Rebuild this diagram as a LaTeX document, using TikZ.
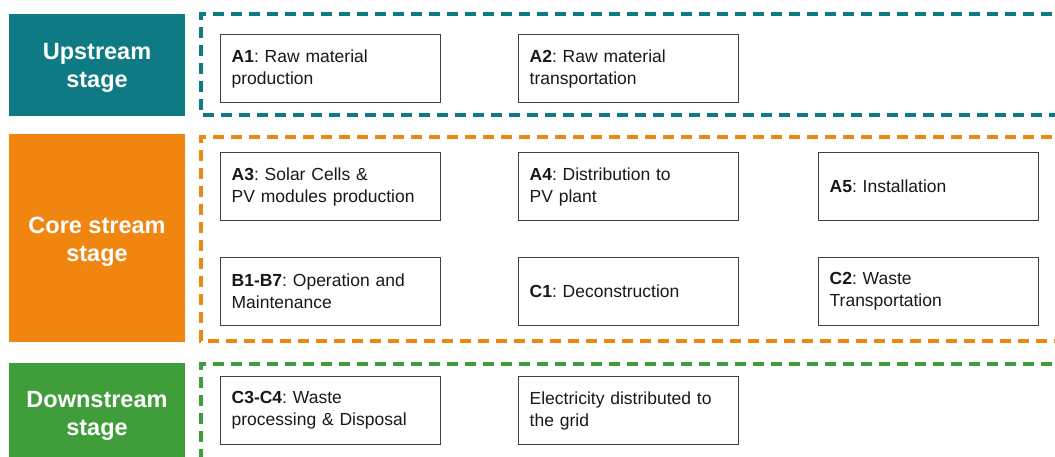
\documentclass[tikz,border=0pt]{standalone}
\usepackage{fontspec}
\setmainfont{Liberation Sans}
\frenchspacing
\definecolor{upteal}{RGB}{14,122,131}
\definecolor{coreorange}{RGB}{240,133,16}
\definecolor{downgreen}{RGB}{64,158,58}
\definecolor{boxline}{RGB}{64,64,64}
\tikzset{
  stage/.style={text=white, font=\fontsize{23.5}{28}\selectfont\bfseries, align=center},
  frame/.style={line width=3.5pt, dash pattern=on 11pt off 7pt},
  module/.style={draw=boxline, line width=1.3pt, fill=white, minimum width=220pt, minimum height=68pt,
    text width=198pt, inner xsep=11pt, inner ysep=0pt, align=left, anchor=north west,
    font=\fontsize{17.5}{22}\selectfont, text=black!90}
}
\begin{document}
\begin{tikzpicture}[x=1pt,y=-1pt]
			\useasboundingbox (0,0) rectangle (1055,457);
			\clip (0,0) rectangle (1055,457);
			
			% stage bars
			\fill[upteal] (9,14) rectangle (185,116);
			\fill[coreorange] (9,134) rectangle (185,342);
			\fill[downgreen] (9,363) rectangle (185,470);
			\node[stage] (up) at (97,68) {Upstream\\stage};
			\node[stage] (core) at (97,241.5) {Core stream\\stage};
			\node[stage] (down) at (97,416) {Downstream\\stage};
			
			% dashed frames
			\draw[frame, draw=upteal] (1070,14) -- (201,14) -- (201,115) -- (1070,115);
			\draw[frame, draw=coreorange] (1070,137) -- (201,137) -- (201,341) -- (1070,341);
			\draw[frame, draw=downgreen] (1070,364) -- (201,364) -- (201,470);
			
			% modules
			\node[module] (a1) at (220,34) {\textbf{A1}: Raw material\\production};
			\node[module] (a2) at (518,34) {\textbf{A2}: Raw material\\transportation};
			\node[module] (a3) at (220,152) {\textbf{A3}: Solar Cells \&\\PV modules production};
			\node[module] (a4) at (518,152) {\textbf{A4}: Distribution to\\PV plant};
			\node[module] (a5) at (818,152) {\textbf{A5}: Installation};
			\node[module] (b1) at (220,257) {\textbf{B1-B7}: Operation and\\Maintenance};
			\node[module] (c1) at (518,257) {\textbf{C1}: Deconstruction};
			\node[module] (c2) at (818,257) {\textbf{C2}: Waste\\Transportation};
			\node[module] (c3) at (220,376) {\textbf{C3-C4}: Waste\\processing \& Disposal};
			\node[module] (grid) at (518,376) {Electricity distributed to\\the grid};
			
		\end{tikzpicture}
\end{document}
